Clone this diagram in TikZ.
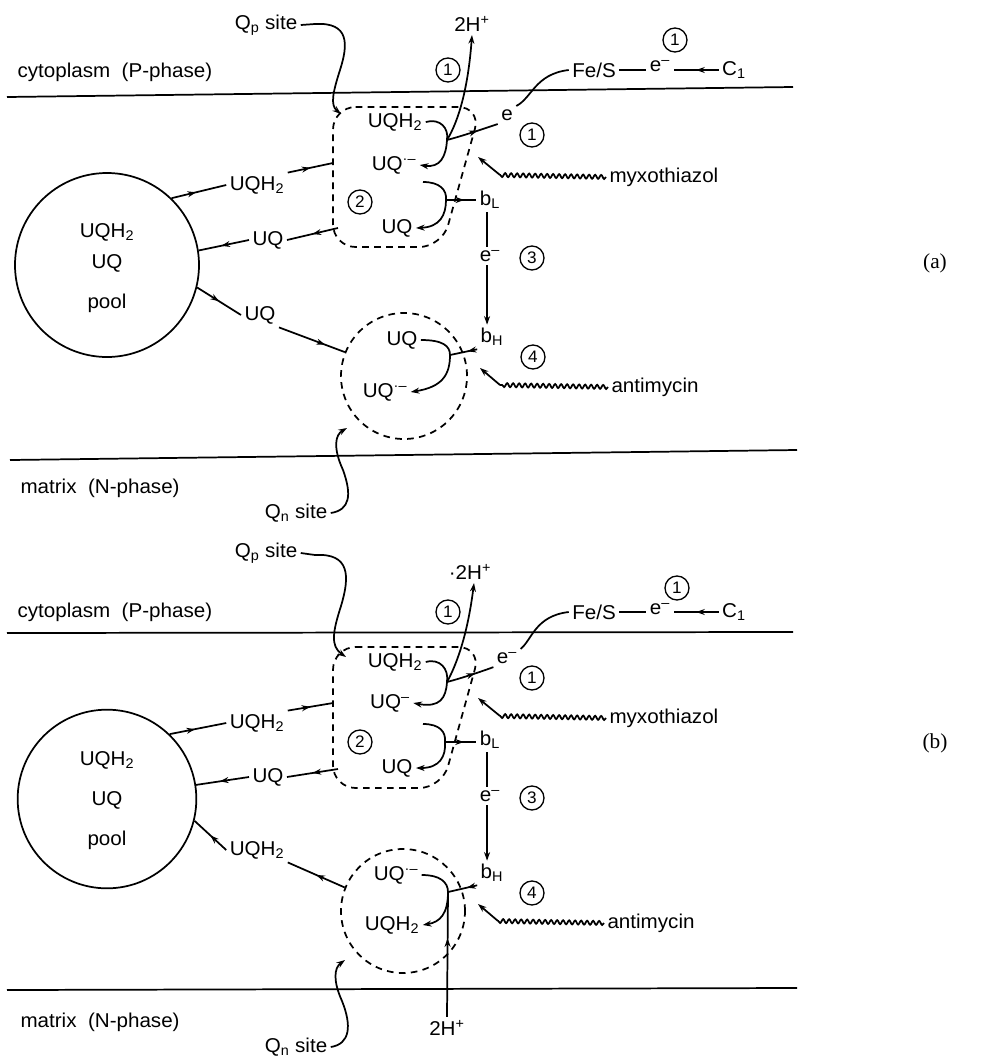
\documentclass[tikz,border=0pt]{standalone}
\usepackage{fontspec}
\setmainfont{Liberation Sans}[FakeStretch=1.03]
\newfontfamily\serifrm{Liberation Serif}
\usetikzlibrary{arrows.meta,decorations.pathmorphing,decorations.markings}
\tikzset{
  every node/.style={font=\fontsize{15}{17}\selectfont, inner sep=2pt},
  tipd/.style={-{Stealth[length=6.5pt,width=4.5pt]}},
  midarr/.style={postaction={decorate}, decoration={markings, mark=at position #1 with {\arrow{Stealth[length=6.5pt,width=4.5pt]}}}},
  midarr/.default=0.55,
  dashbox/.style={dash pattern=on 5pt off 4pt, line width=1.3pt},
  wave/.style={decorate, decoration={snake, segment length=4.5pt, amplitude=1.5pt}},
  cnum/.style={circle, draw, line width=1pt, minimum size=18pt, inner sep=0pt, font=\fontsize{12.5}{12.5}\selectfont},
  panlbl/.style={font=\serifrm\fontsize{16}{16}\selectfont}
}
\begin{document}
\begin{tikzpicture}[x=0.75pt,y=-0.75pt,line width=1.3pt]
\useasboundingbox (0,0) rectangle (1007,1057);

%================ PANEL (a) ================
\draw (7,97) -- (793,87);
\draw (10,460) -- (797,450);
\node[anchor=west] (cytA) at (14,72) {cytoplasm\ \ (P-phase)};
\node[anchor=west] (matA) at (17,488) {matrix\ \ (N-phase)};
\node[panlbl] (labA) at (935,263) {(a)};

% pool
\node[circle,draw,minimum size=138pt] (poolA) at (107,265) {};
\node (pA1) at (107,232) {UQH\textsubscript{2}};
\node (pA2) at (107,263) {UQ};
\node (pA3) at (107,303) {pool};

% Qp site
\draw[dashbox, rounded corners=17pt] (333,107) -- (481,107) -- (442,247) -- (333,247) -- cycle;
\coordinate (qpAin) at (333,163);
\coordinate (qpAout) at (338,228);
\node (qpsA) at (266,25) {Q\textsubscript{p} site};
\coordinate (qpsAs) at (315,24);
\coordinate (qpsAt) at (341,114);
\draw (qpsA.east) -- (qpsAs);
\draw[tipd] (qpsAs) .. controls (350,22) and (348,45) .. (340,70) .. controls (333,92) and (330,105) .. (qpsAt);

\node (qA1) at (395,122) {UQH\textsubscript{2}};
\node (qA2) at (394,165) {UQ\textsuperscript{·–}};
\node[cnum] (c2A) at (360,202) {2};
\node (qA3) at (397,228) {UQ};
\coordinate (J1A) at (447,140);
\coordinate (J2A) at (446,200);
\coordinate (a2sA) at (423,182);
\draw[tipd] (qA1.east) .. controls (440,118) and (449,128) .. (J1A) .. controls (446,157) and (440,168) .. (qA2.east);
\node (hA) at (472,24) {2H\textsuperscript{+}};
\draw[tipd] (J1A) .. controls (458,122) and (468,90) .. (hA.south);
\node (eA) at (507,115) {e};
\draw[midarr=0.6] (J1A) .. controls (462,136) and (480,130) .. (eA.south west);
\node (fesA) at (594,70) {Fe/S};
\draw (eA.north east) .. controls (532,98) and (535,74) .. (fesA.west);
\node (e2A) at (660,66) {e\textsuperscript{–}};
\node (c1A) at (734,70) {C\textsubscript{1}};
\draw (fesA.east) -- (fesA.east -| e2A.west);
\draw[midarr=0.5] (c1A.west) -- (c1A.west -| e2A.east);
\node[cnum] (n1aA) at (448,70) {1};
\node[cnum] (n1bA) at (532,135) {1};
\node[cnum] (n1cA) at (675,40) {1};
\draw[tipd] (a2sA) .. controls (440,182) and (447,190) .. (J2A) .. controls (446,215) and (440,227) .. (qA3.east);
\node (bLA) at (490,200) {b\textsubscript{L}};
\draw[midarr=0.6] (J2A) -- (J2A -| bLA.west);
\node (emA) at (490,256) {e\textsuperscript{–}};
\node[cnum] (n3A) at (532,258) {3};
\node (bHA) at (492,337) {b\textsubscript{H}};
\node[cnum] (n4A) at (533,357) {4};
\draw ([xshift=-2.2pt]bLA.south -| emA.north) -- ([xshift=-2.2pt]emA.north);
\draw[tipd] ([xshift=-2.2pt]emA.south) -- ([xshift=-2.2pt]emA.south |- bHA.north);

% myxothiazol
\node[anchor=west] (myxA) at (606,177) {myxothiazol};
\coordinate (mwA) at (500,175);
\coordinate (mtA) at (478,157);
\draw[wave] (myxA.west) -- (mwA);
\draw[tipd] (mwA) -- (mtA);

% antimycin
\node[anchor=west] (antA) at (608,387) {antimycin};
\coordinate (awA) at (500,385);
\coordinate (atA) at (480,368);
\draw[wave] (antA.west) -- (awA);
\draw[tipd] (awA) -- (atA);

% Qn site
\node[circle, draw, dashbox, minimum size=94.5pt] (qnA) at (404,376) {};
\node (nA1) at (402,340) {UQ};
\node (nA2) at (385,392) {UQ\textsuperscript{·–}};
\coordinate (J3A) at (450,355);
\draw[tipd] (nA1.east) .. controls (443,340) and (450,346) .. (J3A) .. controls (450,375) and (442,387) .. (nA2.east);
\draw[midarr=0.35] (bHA.south west) -- (J3A);

% pool <-> sites
\node (uqhA) at (257,185) {UQH\textsubscript{2}};
\node (uqA) at (268,240) {UQ};
\node (uqnA) at (260,315) {UQ};
\draw[midarr=0.45] (poolA.46) -- (uqhA.west);
\draw[midarr=0.5] (uqhA.north east) -- (qpAin);
\draw[midarr=0.5] (qpAout) -- (uqA.east);
\draw[midarr=0.55] (uqA.west) -- (poolA.9);
\draw[midarr=0.5] (poolA.-14) -- (uqnA.west);
\draw[midarr=0.7] (uqnA.south east) -- (qnA.158);

\node (qnsA) at (296,513) {Q\textsubscript{n} site};
\coordinate (qnsAt) at (347,428);
\draw[tipd] (qnsA.east) .. controls (350,510) and (352,495) .. (343,470) .. controls (333,448) and (335,435) .. (qnsAt);

%================ PANEL (b) ================
\begin{scope}[shift={(0,536)}]
\draw (7,97) -- (793,96);
\draw (7,454) -- (797,452);
\node[anchor=west] (cytB) at (14,76) {cytoplasm\ \ (P-phase)};
\node[anchor=west] (matB) at (17,486) {matrix\ \ (N-phase)};
\node[panlbl] (labB) at (935,207) {(b)};

\node[circle,draw,minimum size=134pt] (poolB) at (107,263) {};
\node (pB1) at (107,224) {UQH\textsubscript{2}};
\node (pB2) at (107,264) {UQ};
\node (pB3) at (107,304) {pool};

\draw[dashbox, rounded corners=17pt] (333,111) -- (481,111) -- (442,252) -- (333,252) -- cycle;
\coordinate (qpBin) at (333,167);
\coordinate (qpBout) at (338,233);
\node (qpsB) at (266,17) {Q\textsubscript{p} site};
\coordinate (qpsBs) at (315,19);
\coordinate (qpsBt) at (346,121);
\draw (qpsB.east) -- (qpsBs);
\draw[tipd] (qpsBs) .. controls (350,17) and (350,40) .. (341,70) .. controls (333,95) and (330,110) .. (qpsBt);

\node (qB1) at (395,126) {UQH\textsubscript{2}};
\node (qB2) at (390,167) {UQ\textsuperscript{–}};
\node[cnum] (c2B) at (360,206) {2};
\node (qB3) at (397,232) {UQ};
\coordinate (J1B) at (447,146);
\coordinate (J2B) at (445,206);
\coordinate (a2sB) at (423,188);
\draw[tipd] (qB1.east) .. controls (440,122) and (449,133) .. (J1B) .. controls (446,162) and (440,172) .. (qB2.east);
\node (hB) at (470,36) {·2H\textsuperscript{+}};
\draw[tipd] (J1B) .. controls (458,126) and (468,95) .. ([xshift=3pt]hB.south);
\node (eB) at (507,122) {e\textsuperscript{–}};
\draw[midarr=0.6] (J1B) .. controls (462,142) and (480,136) .. (eB.south west);
\node (fesB) at (594,76) {Fe/S};
\draw (eB.north east) .. controls (532,104) and (535,80) .. (fesB.west);
\node (e2B) at (660,73) {e\textsuperscript{–}};
\node (c1B) at (734,76) {C\textsubscript{1}};
\draw (fesB.east) -- (fesB.east -| e2B.west);
\draw[midarr=0.5] (c1B.west) -- (c1B.west -| e2B.east);
\node[cnum] (n1aB) at (448,76) {1};
\node[cnum] (n1bB) at (532,142) {1};
\node[cnum] (n1cB) at (677,52) {1};
\draw[tipd] (a2sB) .. controls (440,188) and (446,196) .. (J2B) .. controls (446,220) and (440,232) .. (qB3.east);
\node (bLB) at (490,204) {b\textsubscript{L}};
\draw[midarr=0.6] (J2B) -- (J2B -| bLB.west);
\node (emB) at (490,260) {e\textsuperscript{–}};
\node[cnum] (n3B) at (532,262) {3};
\node (bHB) at (492,337) {b\textsubscript{H}};
\node[cnum] (n4B) at (532,357) {4};
\draw ([xshift=-2.2pt]bLB.south -| emB.north) -- ([xshift=-2.2pt]emB.north);
\draw[tipd] ([xshift=-2.2pt]emB.south) -- ([xshift=-2.2pt]emB.south |- bHB.north);

\node[anchor=west] (myxB) at (606,182) {myxothiazol};
\coordinate (mwB) at (500,180);
\coordinate (mtB) at (478,162);
\draw[wave] (myxB.west) -- (mwB);
\draw[tipd] (mwB) -- (mtB);

\node[anchor=west] (antB) at (604,387) {antimycin};
\coordinate (awB) at (498,385);
\coordinate (atB) at (478,368);
\draw[wave] (antB.west) -- (awB);
\draw[tipd] (awB) -- (atB);

\node[circle, draw, dashbox, minimum size=93pt] (qnB) at (403,375) {};
\node (nB1) at (396,339) {UQ\textsuperscript{·–}};
\node (nB2) at (392,389) {UQH\textsubscript{2}};
\coordinate (J3B) at (448,356);
\draw[tipd] (nB1.east) .. controls (440,339) and (448,346) .. (J3B) .. controls (448,378) and (440,386) .. (nB2.east);
\draw[midarr=0.35] (bHB.south west) -- (J3B);
\node (h2nB) at (447,492) {2H\textsuperscript{+}};
\draw[midarr=0.63] (h2nB.north) -- (J3B);

\node (uqhB) at (257,187) {UQH\textsubscript{2}};
\node (uqB) at (268,241) {UQ};
\node (uqnB) at (257,314) {UQH\textsubscript{2}};
\draw[midarr=0.45] (poolB.46) -- (uqhB.west);
\draw[midarr=0.5] (uqhB.north east) -- (qpBin);
\draw[midarr=0.5] (qpBout) -- (uqB.east);
\draw[midarr=0.55] (uqB.west) -- (poolB.9);
\draw[midarr=0.5] (qnB.158) -- (uqnB.south east);
\draw[midarr=0.5] (uqnB.west) -- (poolB.-14);

\node (qnsB) at (296,511) {Q\textsubscript{n} site};
\coordinate (qnsBt) at (345,424);
\draw[tipd] (qnsB.east) .. controls (350,508) and (352,490) .. (342,465) .. controls (333,445) and (334,432) .. (qnsBt);
\end{scope}
\end{tikzpicture}
\end{document}
